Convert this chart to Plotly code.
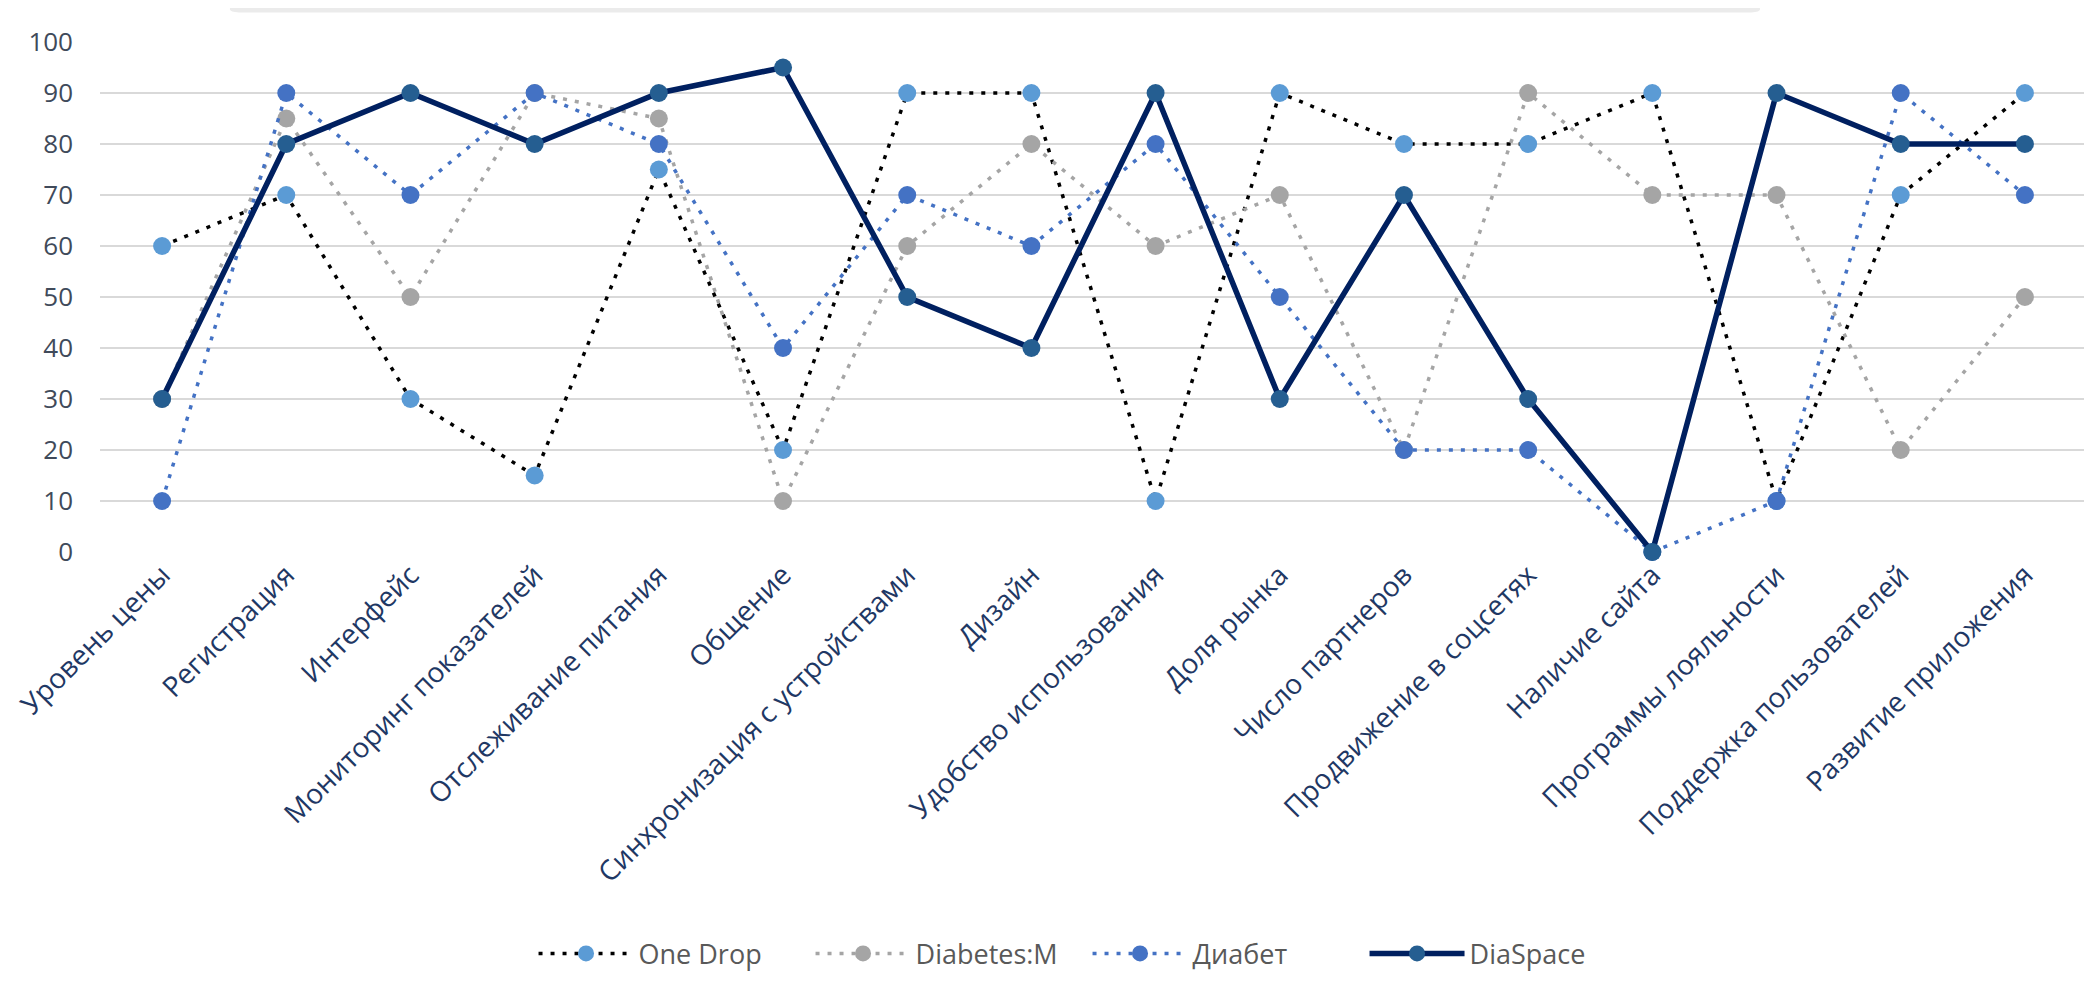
import plotly.graph_objects as go

categories = [
    "Уровень цены", "Регистрация", "Интерфейс", "Мониторинг показателей",
    "Отслеживание питания", "Общение", "Синхронизация с устройствами",
    "Дизайн", "Удобство использования", "Доля рынка", "Число партнеров",
    "Продвижение в соцсетях", "Наличие сайта", "Программы лояльности",
    "Поддержка пользователей", "Развитие приложения",
]

one_drop = [60, 70, 30, 15, 75, 20, 90, 90, 10, 90, 80, 80, 90, 10, 70, 90]
diabetes_m = [30, 85, 50, 90, 85, 10, 60, 80, 60, 70, 20, 90, 70, 70, 20, 50]
diabet = [10, 90, 70, 90, 80, 40, 70, 60, 80, 50, 20, 20, 0, 10, 90, 70]
diaspace = [30, 80, 90, 80, 90, 95, 50, 40, 90, 30, 70, 30, 0, 90, 80, 80]

series = [
    ("One Drop", one_drop, "#000000", "#5B9BD5", "4px,8px", 3.5),
    ("Diabetes:M", diabetes_m, "#A5A5A5", "#A5A5A5", "4px,8px", 3.5),
    ("Диабет", diabet, "#4472C4", "#4472C4", "4px,8px", 3.5),
    ("DiaSpace", diaspace, "#002060", "#255E91", "solid", 5.5),
]

fig = go.Figure()
for name, vals, line_col, mk_col, dash, w in series:
    fig.add_trace(go.Scatter(
        x=categories, y=vals, name=name, mode="lines+markers",
        line=dict(color=line_col, width=w, dash=dash),
        marker=dict(color=mk_col, size=18),
        cliponaxis=False,
    ))

# light grey rounded bar peeking in at the top edge
fig.add_shape(
    type="path", xref="paper", yref="paper", layer="below",
    path="M 0.0654 1.07 L 0.0654 1.064 Q 0.0654 1.058 0.07 1.058 "
         "L 0.831 1.058 Q 0.8354 1.058 0.8354 1.064 L 0.8354 1.07 Z",
    fillcolor="#EBEBEB", line=dict(width=0),
)

fig.update_layout(
    width=2084, height=983,
    margin=dict(l=92, r=5, t=34, b=439),
    paper_bgcolor="white", plot_bgcolor="white",
    font=dict(family="Open Sans", size=26, color="#595959"),
    showlegend=True,
    legend=dict(
        orientation="h", x=0.497, xanchor="center", y=-0.788, yanchor="middle",
        font=dict(size=27, color="#595959"), itemwidth=95,
        entrywidth=167, entrywidthmode="pixels",
    ),
)
fig.update_xaxes(
    range=[-0.5, len(categories) - 0.5],
    tickangle=-45, tickfont=dict(size=28, color="#1F3864"),
    showgrid=False, showline=False, ticks="", automargin=False,
)
fig.update_yaxes(
    range=[0, 100], dtick=10, gridcolor="#D9D9D9", gridwidth=2,
    zeroline=False, showline=False, ticks="", automargin=False,
    tickfont=dict(size=26, color="#404A5A"), ticklabelstandoff=26,
)

fig.write_html("out.html")
